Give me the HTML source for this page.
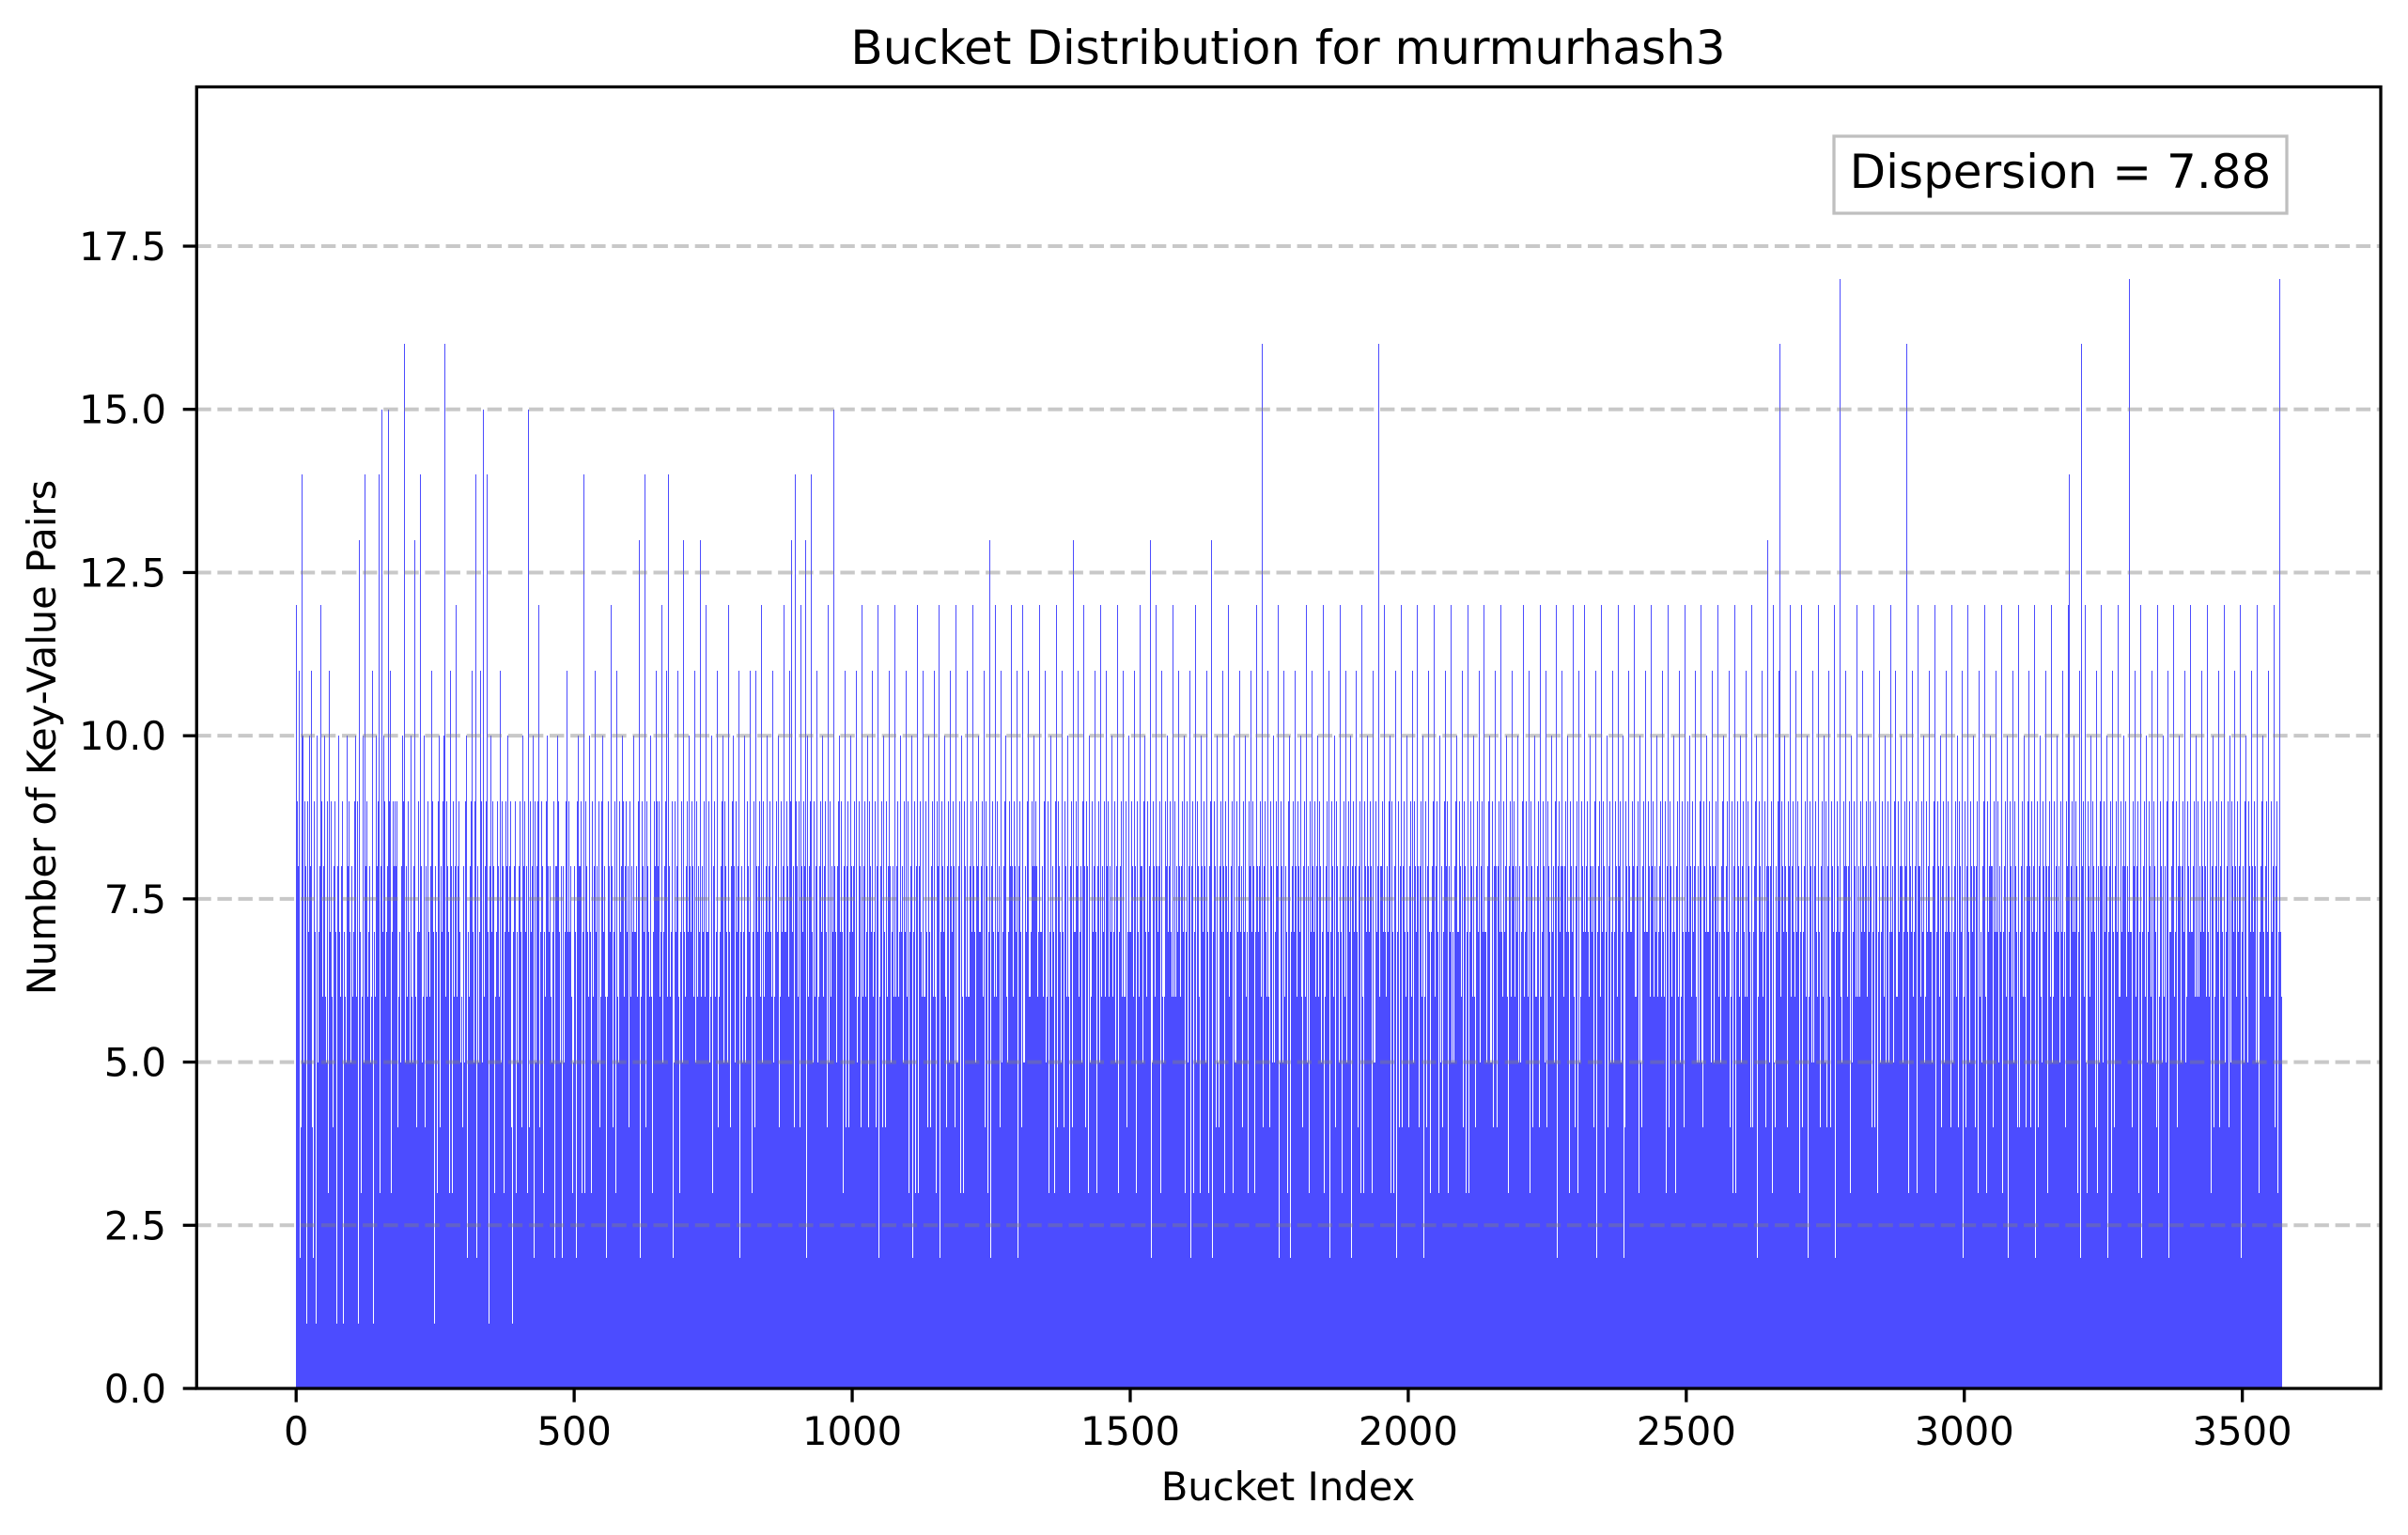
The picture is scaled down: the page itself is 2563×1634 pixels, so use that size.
<!DOCTYPE html>
<html><head><meta charset="utf-8"><title>Bucket Distribution for murmurhash3</title>
<style>html,body{margin:0;padding:0;background:#fff;}svg{display:block;font-family:"DejaVu Sans","Liberation Sans",sans-serif;}</style>
</head><body>
<svg id="chart" width="2563" height="1634" viewBox="0 0 2563 1634" xmlns="http://www.w3.org/2000/svg">
<rect x="0" y="0" width="2563" height="1634" fill="#fff"/>
<text x="1371" y="68" font-size="50" text-anchor="middle" fill="#000">Bucket Distribution for murmurhash3</text>
<g id="bars" shape-rendering="crispEdges"></g>
<g id="grid"></g>
<g id="yticks"></g>
<g id="xticks"></g>
<rect x="209.3" y="92.5" width="2324.7" height="1385.5" fill="none" stroke="#000" stroke-width="3.3"/>
<text x="1371" y="1597" font-size="41.7" text-anchor="middle" fill="#000">Bucket Index</text>
<text x="0" y="0" font-size="41.7" text-anchor="middle" fill="#000" transform="translate(59,785) rotate(-90)">Number of Key-Value Pairs</text>
<g>
<rect x="1952" y="145" width="482" height="82" fill="#fff" stroke="#bfbfbf" stroke-width="3.3"/>
<text x="2193" y="200" font-size="50" text-anchor="middle" fill="#000">Dispersion = 7.88</text>
</g>
</svg>
<script>
const countsCode = `
c5398b6204 e7a3596831 5947a28b63 4269571a85 3768c59263 8a4615793b 2579634086 9751384a27 6385917462 5a38496715
3867293a56 4918d75362 7a54e38196 4782563b91 5736a8294e 6385f17a29 461738f962 b357294896 8394627158 3a696g5418
6947258a36 5829d63471 9375e28564 7a48163957 2683b59741 8567392a64 58739a1g46 2958473b68 5397628c41 6849275361
4785936a27 5638294b75 3967e28453 7b4895f362 8593e47168 2a75948363 5798463b25 6948372958 3a57869241 7485963725
5839274a68 2957483f61 4967385a29 7358496c47 2694837562 9a48573861 5473928658 3a96745821 6857493b27 4975862315
8367294a58 5849372e61 3958476a25 7394658b37 2865974364 9a57384625 6938475c28 4759836b64 5297483a59 6485973824
2968475a37 7384695d52 5693847e24 4985763a85 6374958b29 3859467c73 5748396b62 e586473925 4937586b64 3674958d27
6859374a48 7394856b25 4968375d62 5873946c37 2789564a83 8495637b24 6574839a65 3968475c52 7458396a84 5397846b27
4685739a53 6938475b64 3759846b28 7483956c52 5967384a76 8394756b25 4683957a84 6395748c27 5749386b63 9d75864e29
5836974c48 3749586d26 a658394e73 5974683b25 6849375a64 8395746c52 4968357f83 3758496a27 6947385b64 5839476a28
7485936b54 5697384c26 4859367a84 3968574b63 7394856c25 6589437a74 4973685b28 5748369c63 8496375a27 3859476b64
6937485a52 4759386c73 5894736b26 3698574a84 7485936b53 6379485c27 5948736a64 4869357b82 7395846c53 5684937a26
3978456b64 6584937c82 4759368a27 7384965b54 5968374d62 3849576c74 6957384b25 4785936a63 5379486c84 6948573b27
8593746c45 5487396b63 6759384a28 3984657c74 7586394b52 4698375a86 5847396c24 3968475b63 7495836a84 6385974d27
5749386b63 7385946c82 4958637a25 6397485b74 3684957c62 8573946b28 5968374a65 4739586c23 7485936b86 6398475a57
5749386b63 8394756c28 4685937a74 6957384d25 3798465c84 7485936b62 5649387a73 8593746c26 4968357b84 6385974a53
3749586b72 6859374c64 5978463a28 4796385b83 7384956d27 6598437a54 4859376b82 3968475c63 7485936a25 5697384b74
6849375a62 5739486b37 4968375c28 7584936g54 3895746b62 6497385a83 5739486c25 4968537b64 8573946a27 3685974b84
6958374a63 4789365c52 5839476b84 7394685a26 3968574c73 6485937b52 5794836a84 4968375c27 7385946b63 5849376a28
6957384b74 4785936c62 3968475a83 7594836b25 5397486g64 8385974c27 4685739a53 6957384b82 5739486c64 3849576a27
7485936b53 5698374c84 4859367a26 6394857b73 3768495c62 8495736a25 5847396b84 6938475c53 4758396a27 7394856b64
5968374c82 3759486a64 6485937b25 4896375c73 7358496a52 5694837b84 4859376c27 6397485a63 3785964b82 5968374a25
4857396c64 7394856b83 5968437a26 3685974c52 6749385b74 4958376a63 7385946c28 5697384b84 6849375a27 3968574c62
4785936b25 6394857c74 5897364a83 3758496b62 7485936c27 6958374a54 4869357b83 5739486c62 8495736a24 3968475b87
5749386c63 6485937a25 4859376b74 7394856c82 5968374a63 3785964b27 6497385c84 4958637a52 7385946b64 5698374c27
3849576a83 6957384b62 5785936c25 4968375a74 7394856b83 5869374c62 3758496a27 6485937b84 4697385c63 7594836a25
5849376b73 6958374c82 4785936a26 3968475b64 7394856d83 5689437c25 4857396b7g 6398475a82 5749386c63 8394756b27
5968374c84 4785936a62 6397485b25 3859476c73 7485936a84 5794836b62 4968375c27 6958374h63 5739486b84 6485937a25
7394856c63 5869374b82 4785936a27 3968475c64 6958374b83 5794836a25 4869357c73 7385946b62 6497385a84 5739486g27
3968475b63 7485936c82 5869374a25 6397485b74 4758396c63 7594836a84 3849576b27 6958374c62 5785936a83 4968375b25
6394857c74 5968374a83 4785936b26 7358496c62 3697485a84 5849376b27 6958374c63 4785936a82 7394856b25 5968374c74
3758496a63 6485937b84 4697385c27 7394856a62 5968374b83 3785964c25 6497385a74 4859376b63 5749386c8e 6385974a27
4968375b62 g785936c84 5394856a27 6958374b63 3785964c82 5697384a25 7485936b74 4859376c63 6397485a84 5968374h27
3749586b63 6859374c82 4785936a25 7394856b74 5968374c63 3697485a84 6485937b27 4758396c62 7594836a83 5849376b25
6958374c74 4785936a63 3968475b82 7394856c27 5697384a84 6485937b62 4859376c25 3785964a73 5968374b84 6397485c27
4785936a62 5968374b83 7394856c25 3758496a74 6485937b63 4697385c84 5849376h27 6958374a62 4785936b83 73e4856c8
`;
const bucketCount = 3571;
const counts = countsCode.replace(/\s/g, '').split('').map(function (c) { return parseInt(c, 36); }).slice(0, bucketCount);
const yTickValues = [0, 2.5, 5, 7.5, 10, 12.5, 15, 17.5];
const yTickLabels = ['0.0', '2.5', '5.0', '7.5', '10.0', '12.5', '15.0', '17.5'];
const xTickValues = [0, 500, 1000, 1500, 2000, 2500, 3000, 3500];
const xTickLabels = ['0', '500', '1000', '1500', '2000', '2500', '3000', '3500'];

(function () {
  const NS = 'http://www.w3.org/2000/svg';
  const plotL = 209.3, plotR = 2534, plotT = 92.5, plotB = 1478;
  const n = counts.length;
  const margin = (n - 1 + 0.8) * 0.05;
  const xMin = -0.4 - margin, xMax = n - 1 + 0.4 + margin;
  const yMax = 19.94;
  function xs(v) { return plotL + (v - xMin) / (xMax - xMin) * (plotR - plotL); }
  function ys(v) { return plotB - v / yMax * (plotB - plotT); }

  const barsG = document.getElementById('bars');
  for (let i = 0; i < n; i++) {
    const v = counts[i];
    if (!v) continue;
    const r = document.createElementNS(NS, 'rect');
    
    
    const x = Math.round(xs(i) - 0.5);
    const y = Math.round(ys(v));
    r.setAttribute('x', x);
    r.setAttribute('y', y);
    r.setAttribute('width', 1);
    r.setAttribute('height', Math.round(plotB) - y);
    r.setAttribute('fill', '#4c4cff');
    barsG.appendChild(r);
  }

  const gridG = document.getElementById('grid');
  const yG = document.getElementById('yticks');
  for (let k = 0; k < yTickValues.length; k++) {
    const y = ys(yTickValues[k]);
    if (yTickValues[k] > 0) {
      const gl = document.createElementNS(NS, 'line');
      
      
      gl.setAttribute('x1', plotL); gl.setAttribute('x2', plotR);
      gl.setAttribute('y1', y); gl.setAttribute('y2', y);
      gl.setAttribute('stroke', '#808080');
      gl.setAttribute('stroke-opacity', '0.43');
      gl.setAttribute('stroke-width', '4');
      gl.setAttribute('stroke-dasharray', '15.4 6.7');
      gridG.appendChild(gl);
    }
    const t = document.createElementNS(NS, 'line');
    
    
    t.setAttribute('x1', plotL - 14.6); t.setAttribute('x2', plotL);
    t.setAttribute('y1', y); t.setAttribute('y2', y);
    t.setAttribute('stroke', '#000'); t.setAttribute('stroke-width', '3.3');
    yG.appendChild(t);
    const lb = document.createElementNS(NS, 'text');
    
    
    lb.setAttribute('x', 177); lb.setAttribute('y', y + 15);
    lb.setAttribute('font-size', '41.7');
    lb.setAttribute('text-anchor', 'end');
    lb.textContent = yTickLabels[k];
    yG.appendChild(lb);
  }

  const xG = document.getElementById('xticks');
  for (let k = 0; k < xTickValues.length; k++) {
    const x = xs(xTickValues[k]);
    const t = document.createElementNS(NS, 'line');
    
    
    t.setAttribute('x1', x); t.setAttribute('x2', x);
    t.setAttribute('y1', plotB); t.setAttribute('y2', plotB + 14.6);
    t.setAttribute('stroke', '#000'); t.setAttribute('stroke-width', '3.3');
    xG.appendChild(t);
    const lb = document.createElementNS(NS, 'text');
    
    
    lb.setAttribute('x', x); lb.setAttribute('y', 1538);
    lb.setAttribute('font-size', '41.7');
    lb.setAttribute('text-anchor', 'middle');
    lb.textContent = xTickLabels[k];
    xG.appendChild(lb);
  }
})();
</script>
</body></html>
